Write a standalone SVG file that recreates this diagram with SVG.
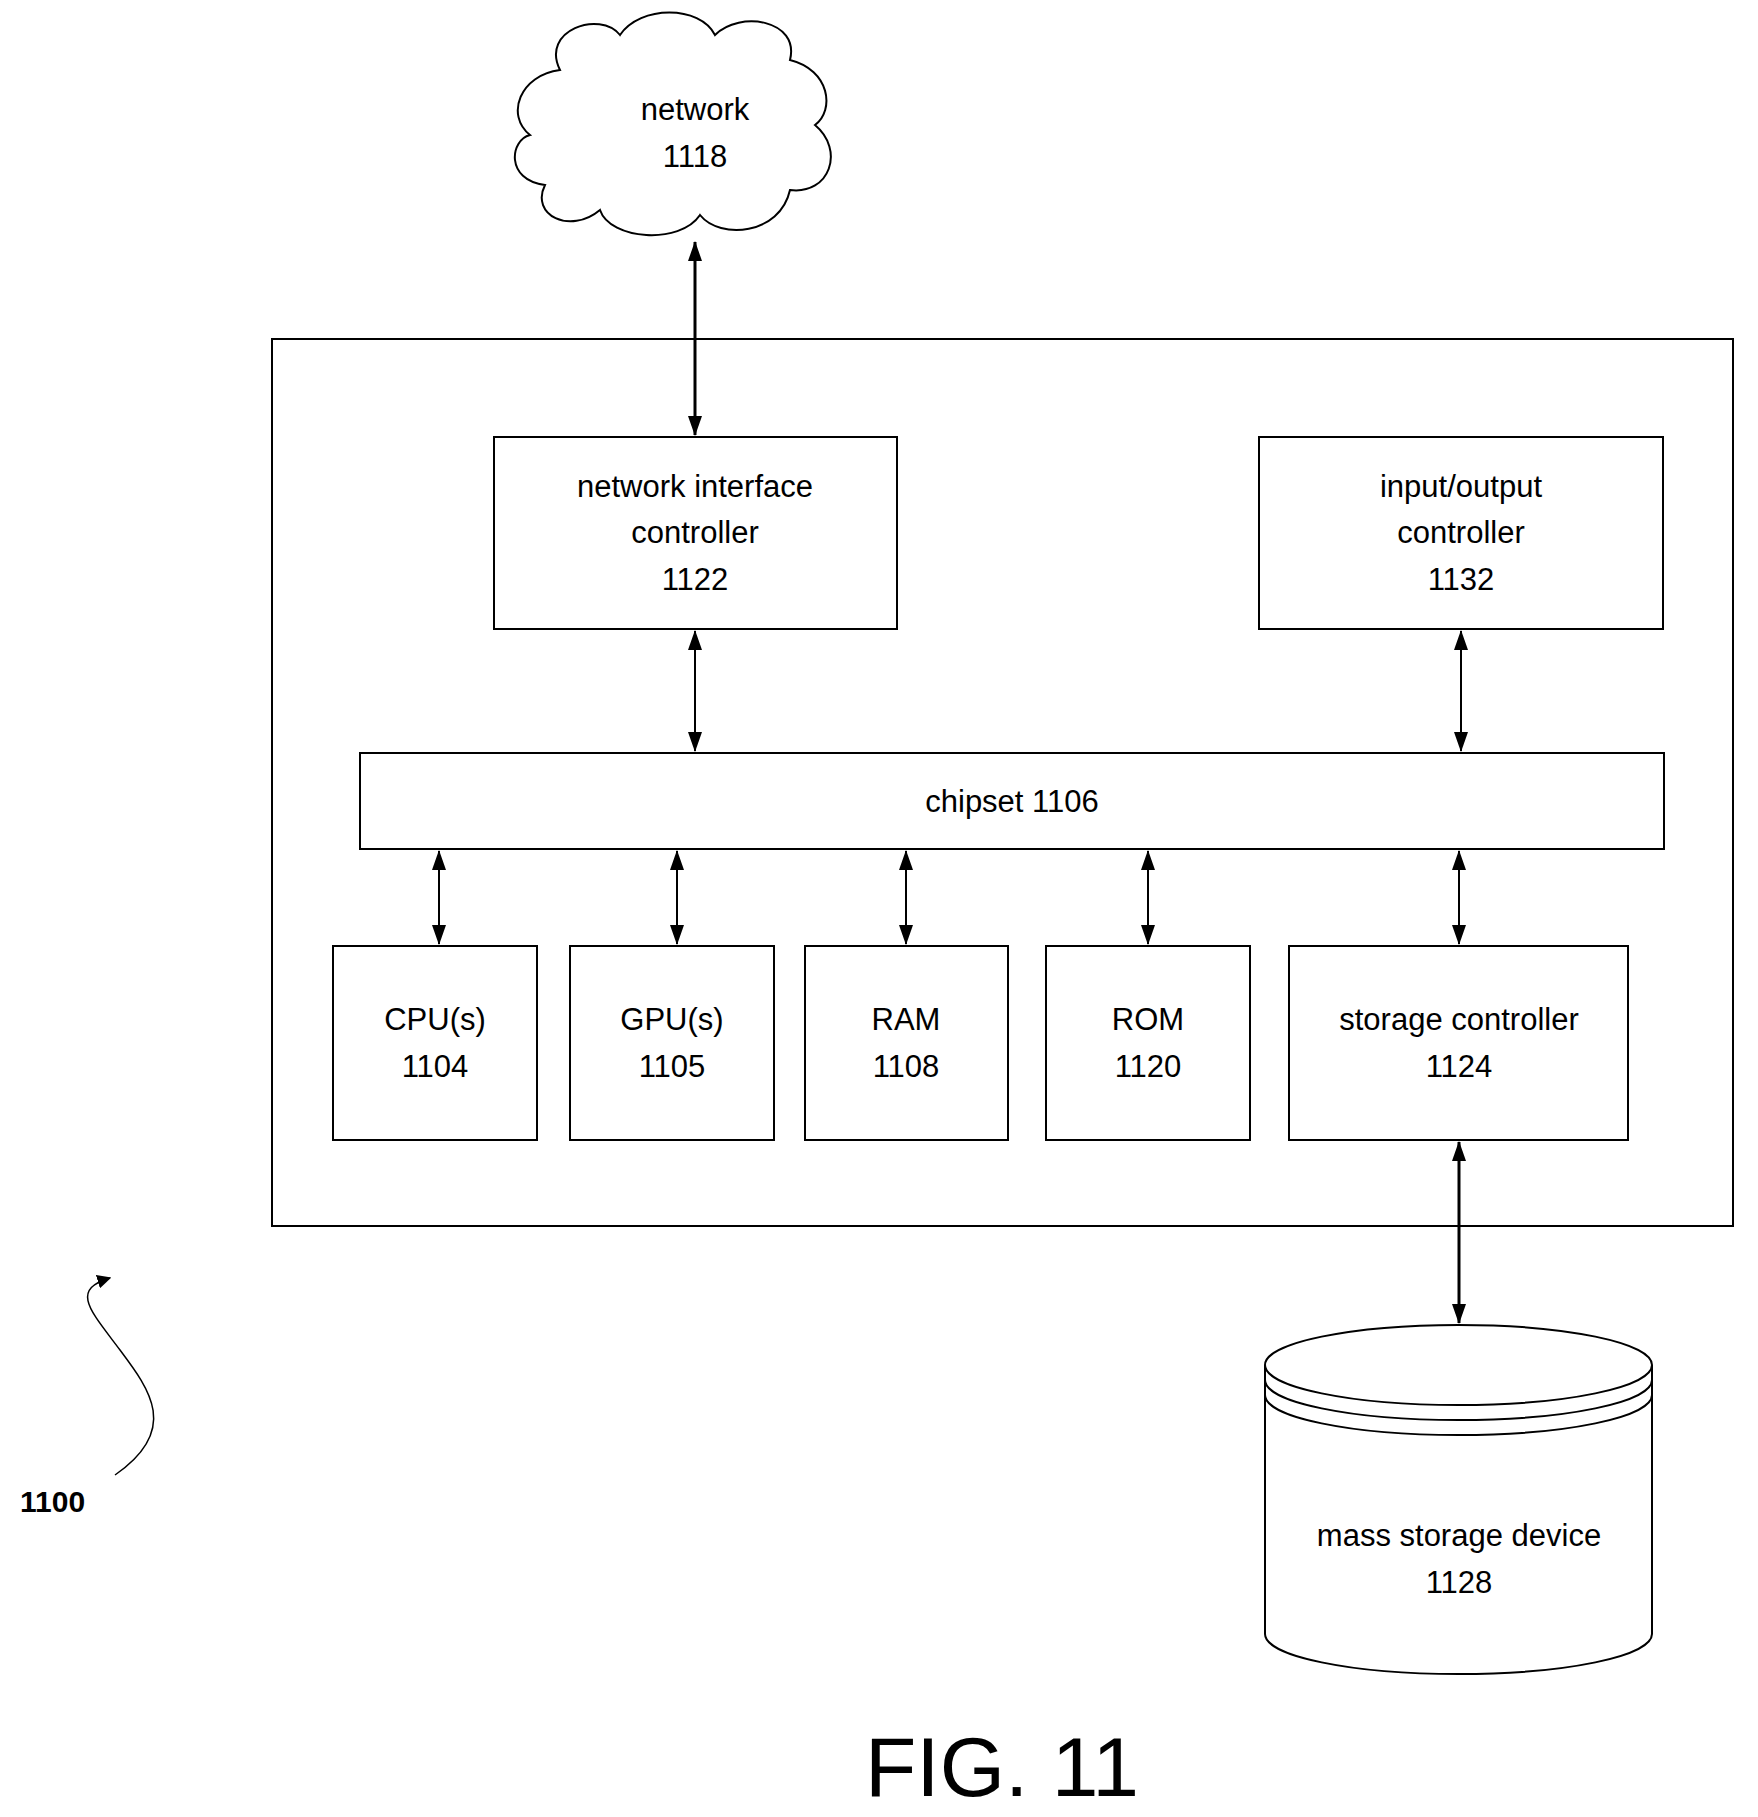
<svg xmlns="http://www.w3.org/2000/svg" width="1758" height="1817" viewBox="0 0 1758 1817">
<style>
.b{fill:#fff;stroke:#000;stroke-width:2}
.t{font-family:"Liberation Sans",Arial,sans-serif;font-size:31px;text-anchor:middle;fill:#000}
.c{stroke:#000;stroke-width:2;fill:none;marker-start:url(#a);marker-end:url(#a)}
</style>
<defs><marker id="a" viewBox="0 0 20 14" refX="19" refY="7" markerWidth="20" markerHeight="14" markerUnits="userSpaceOnUse" orient="auto-start-reverse"><path d="M0,0L20,7L0,14z" fill="#000"/></marker>
<marker id="a2" viewBox="0 0 10 10" refX="9" refY="5" markerWidth="14" markerHeight="14" markerUnits="userSpaceOnUse" orient="auto-start-reverse"><path d="M0,0L10,5L0,10z" fill="#000"/></marker></defs>
<rect class="b" x="272" y="339" width="1461" height="887"/>
<g id="network"><path class="b" d="M560,70 C540,30 600,10 620,35 C640,5 700,5 715,35 C740,10 800,20 790,60 C830,70 835,110 815,125 C845,150 830,195 790,190 C780,235 720,240 700,215 C680,245 610,240 600,210 C570,235 530,215 545,185 C505,180 510,140 530,135 C505,115 520,75 560,70 Z"/><text class="t" x="695" y="120">network</text><text class="t" x="695" y="167">1118</text></g>
<g id="nic"><rect class="b" x="494" y="437" width="403" height="192"/><text class="t" x="695" y="497">network interface</text><text class="t" x="695" y="543">controller</text><text class="t" x="695" y="590">1122</text></g>
<g id="io"><rect class="b" x="1259" y="437" width="404" height="192"/><text class="t" x="1461" y="497">input/output</text><text class="t" x="1461" y="543">controller</text><text class="t" x="1461" y="590">1132</text></g>
<g id="chipset"><rect class="b" x="360" y="753" width="1304" height="96"/><text class="t" x="1012" y="812">chipset 1106</text></g>
<g id="cpu"><rect class="b" x="333" y="946" width="204" height="194"/><text class="t" x="435" y="1030">CPU(s)</text><text class="t" x="435" y="1077">1104</text></g>
<g id="gpu"><rect class="b" x="570" y="946" width="204" height="194"/><text class="t" x="672" y="1030">GPU(s)</text><text class="t" x="672" y="1077">1105</text></g>
<g id="ram"><rect class="b" x="805" y="946" width="203" height="194"/><text class="t" x="906" y="1030">RAM</text><text class="t" x="906" y="1077">1108</text></g>
<g id="rom"><rect class="b" x="1046" y="946" width="204" height="194"/><text class="t" x="1148" y="1030">ROM</text><text class="t" x="1148" y="1077">1120</text></g>
<g id="storage"><rect class="b" x="1289" y="946" width="339" height="194"/><text class="t" x="1459" y="1030">storage controller</text><text class="t" x="1459" y="1077">1124</text></g>
<g id="mass"><path class="b" d="M1265,1365 A193,40 0 0 1 1652,1365 L1652,1634 A193,40 0 0 1 1265,1634 Z"/><path class="b" fill="none" d="M1265,1365 A193,40 0 0 0 1652,1365 M1265,1380 A193,40 0 0 0 1652,1380 M1265,1395 A193,40 0 0 0 1652,1395"/><text class="t" x="1459" y="1546">mass storage device</text><text class="t" x="1459" y="1593">1128</text></g>
<g id="connectors">
<line class="c" x1="695" y1="242" x2="695" y2="435" style="stroke-width:3"/>
<line class="c" x1="695" y1="631" x2="695" y2="751"/>
<line class="c" x1="1461" y1="631" x2="1461" y2="751"/>
<line class="c" x1="439" y1="851" x2="439" y2="944"/>
<line class="c" x1="677" y1="851" x2="677" y2="944"/>
<line class="c" x1="906" y1="851" x2="906" y2="944"/>
<line class="c" x1="1148" y1="851" x2="1148" y2="944"/>
<line class="c" x1="1459" y1="851" x2="1459" y2="944"/>
<line class="c" x1="1459" y1="1142" x2="1459" y2="1323" style="stroke-width:3"/>
<path d="M115,1475 C180,1430 150,1390 120,1350 C90,1310 70,1290 110,1278" fill="none" stroke="#000" stroke-width="1.5" marker-end="url(#a2)"/>
</g>
<text x="20" y="1512" style="font-family:'Liberation Sans',Arial,sans-serif;font-size:30px;font-weight:bold">1100</text>
<text x="1002" y="1796" class="t" style="font-size:84px">FIG. 11</text>
</svg>
